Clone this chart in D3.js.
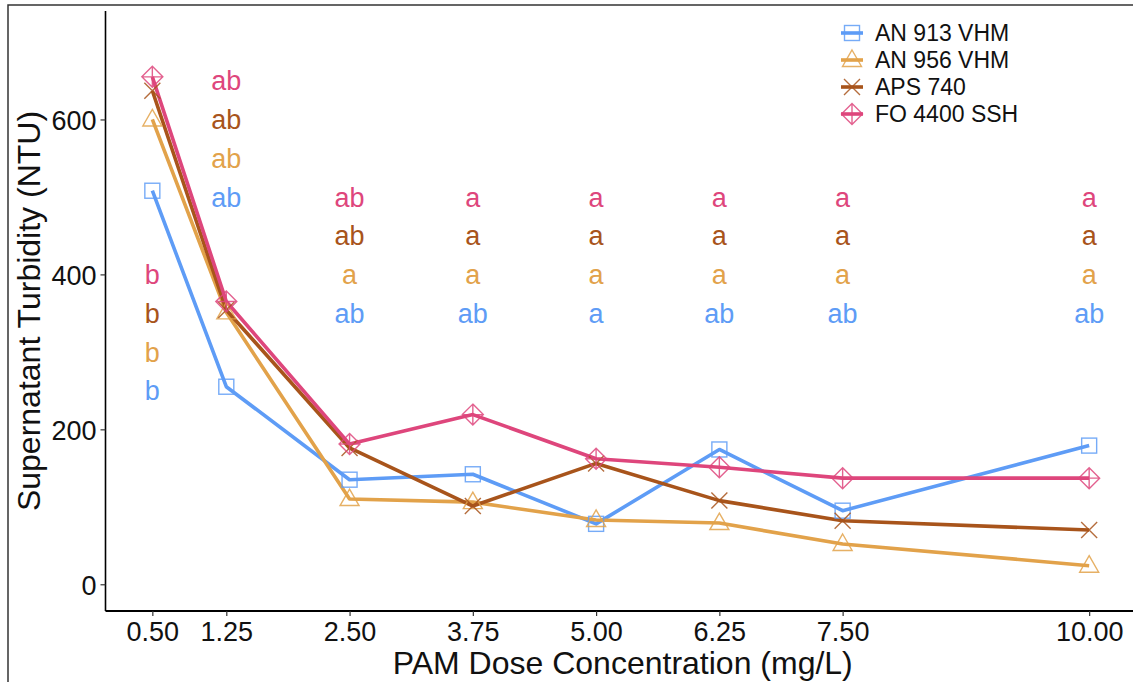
<!DOCTYPE html>
<html><head><meta charset="utf-8">
<script src="https://cdn.jsdelivr.net/npm/d3@7"></script>
<style>
body{margin:0;background:#fff;}
svg text{font-family:"Liberation Sans",Arial,sans-serif;}
</style></head>
<body><svg id="chart" width="1133" height="682"></svg>
<script>
const doses = [0.50, 1.25, 2.50, 3.75, 5.00, 6.25, 7.50, 10.00];
const doseLabels = ["0.50","1.25","2.50","3.75","5.00","6.25","7.50","10.00"];
const seriesNames = ["AN 913 VHM", "AN 956 VHM", "APS 740", "FO 4400 SSH"];
const an913 = [508, 255, 135, 142, 78, 174, 95, 179];
const an956 = [600, 351, 110, 106, 83, 79, 52, 24];
const aps740 = [637, 354, 176, 101, 156, 108, 82, 70];
const fo4400 = [655, 365, 181, 219, 162, 151, 137, 137];
const colors = ["#5E9CF6", "#E2A24A", "#A8541B", "#DE467C"];
const shapes = ["square", "triangle", "cross", "diamondplus"];
const yTicks = [0, 200, 400, 600];
// significance letters, per series, per dose
const letters913 = ["b","ab","ab","ab","a","ab","ab","ab"];
const letters956 = ["b","ab","a","a","a","a","a","a"];
const letters740 = ["b","ab","ab","a","a","a","a","a"];
const letters4400 = ["b","ab","ab","a","a","a","a","a"];
// y positions of letters (data units)
const letterY913 = [250, 500, 350, 350, 350, 350, 350, 350];
const letterY956 = [300, 550, 400, 400, 400, 400, 400, 400];
const letterY740 = [350, 600, 450, 450, 450, 450, 450, 450];
const letterY4400 = [400, 650, 500, 500, 500, 500, 500, 500];

const values = [an913, an956, aps740, fo4400];
const letterSets = [letters913, letters956, letters740, letters4400];
const letterYs = [letterY913, letterY956, letterY740, letterY4400];

const svg = d3.select("#chart");
const x = d3.scaleLinear().domain([0.025, 10.475]).range([105.5, 1136]);
const y = d3.scaleLinear().domain([-34.5, 740]).range([611, 11]);

// outer border
svg.append("rect").attr("x", 8).attr("y", 5).attr("width", 1140).attr("height", 700)
  .attr("fill", "none").attr("stroke", "#333").attr("stroke-width", 1.5);

// axes
const yAxis = svg.append("g").attr("transform", "translate(105.5,0)")
  .call(d3.axisLeft(y).tickValues(yTicks).tickSize(5).tickPadding(4).tickFormat(d3.format("d")));
yAxis.select(".domain").attr("stroke", "#000").attr("stroke-width", 1.6).attr("d", `M0,${y.range()[1]}V${y.range()[0]}`);
yAxis.selectAll(".tick line").attr("stroke", "#333").attr("stroke-width", 1.2);
yAxis.selectAll(".tick text").attr("font-size", 27).attr("fill", "#111").attr("dy", "0.36em");

const xAxis = svg.append("g").attr("transform", "translate(0,611)")
  .call(d3.axisBottom(x).tickValues(doses).tickSize(5).tickPadding(3)
    .tickFormat((d, i) => doseLabels[i]));
xAxis.select(".domain").attr("stroke", "#000").attr("stroke-width", 2).attr("d", `M${x.range()[0]},0H${x.range()[1]}`);
xAxis.selectAll(".tick line").attr("stroke", "#333").attr("stroke-width", 1.2);
xAxis.selectAll(".tick text").attr("font-size", 27).attr("fill", "#111").attr("dy", "0.8em");

// axis titles
svg.append("text").attr("x", x(5.25) + 2).attr("y", 674).attr("text-anchor", "middle")
  .attr("font-size", 32).attr("fill", "#111").text("PAM Dose Concentration (mg/L)");
svg.append("text").attr("transform", `translate(40,${(11 + 611) / 2}) rotate(-90)`)
  .attr("text-anchor", "middle").attr("font-size", 32).attr("fill", "#111")
  .text("Supernatant Turbidity (NTU)");

// letters
letterSets.forEach((ls, s) => {
  svg.append("g").selectAll("text").data(ls).join("text")
    .attr("x", (d, i) => x(doses[i])).attr("y", (d, i) => y(letterYs[s][i]))
    .attr("dy", "0.36em").attr("text-anchor", "middle").attr("font-size", 27)
    .attr("fill", colors[s]).text(d => d);
});

// lines
const line = d3.line().x((d, i) => x(doses[i])).y(d => y(d));
values.forEach((v, s) => {
  svg.append("path").datum(v).attr("d", line).attr("fill", "none")
    .attr("stroke", colors[s]).attr("stroke-width", 3.6).attr("stroke-linejoin", "round");
});

function drawShape(g, shape, color) {
  const sw = 1.4;
  if (shape === "square") {
    g.append("rect").attr("x", -7.5).attr("y", -7.5).attr("width", 15).attr("height", 15)
      .attr("fill", "none").attr("stroke", color).attr("stroke-width", sw);
  } else if (shape === "triangle") {
    g.append("path").attr("d", "M0,-10L9.5,6.5L-9.5,6.5Z")
      .attr("fill", "none").attr("stroke", color).attr("stroke-width", sw);
  } else if (shape === "cross") {
    g.append("path").attr("d", "M-8,-8L8,8M-8,8L8,-8")
      .attr("fill", "none").attr("stroke", color).attr("stroke-width", sw);
  } else {
    g.append("path").attr("d", "M0,-10.5L10.5,0L0,10.5L-10.5,0ZM0,-10.5V10.5M-10.5,0H10.5")
      .attr("fill", "none").attr("stroke", color).attr("stroke-width", sw);
  }
}

// points
values.forEach((v, s) => {
  v.forEach((d, i) => {
    const g = svg.append("g").attr("transform", `translate(${x(doses[i])},${y(d)})`).attr("opacity", 0.85);
    drawShape(g, shapes[s], colors[s]);
  });
});

// legend
const legendY = [33, 60, 87, 114];
seriesNames.forEach((name, s) => {
  const g = svg.append("g").attr("transform", `translate(852,${legendY[s]})`);
  g.append("line").attr("x1", -11).attr("x2", 11).attr("stroke", colors[s]).attr("stroke-width", 3.6);
  const m = g.append("g").attr("opacity", 0.85);
  drawShape(m, shapes[s], colors[s]);
  g.append("text").attr("x", 23).attr("dy", "0.36em").attr("font-size", 23).attr("fill", "#111").text(name);
});
</script></body></html>
